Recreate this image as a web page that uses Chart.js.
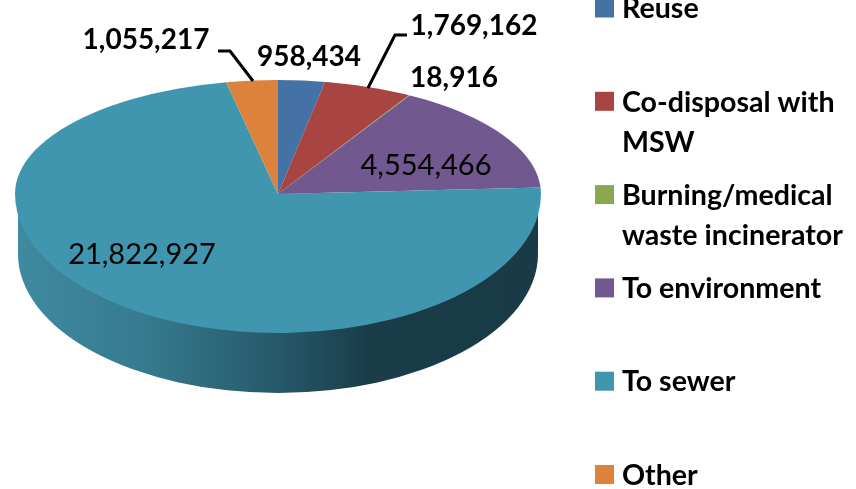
<!DOCTYPE html>
<html><head><meta charset="utf-8">
<style>html,body{margin:0;padding:0;background:#fff}#w{width:856px;height:489px}canvas{filter:blur(0.4px)}</style>
<script src="https://cdn.jsdelivr.net/npm/chart.js@4"></script></head>
<body><div id="w"><canvas id="c" width="856" height="489"></canvas></div>
<script>
const categories = ['Reuse','Co-disposal with MSW','Burning/medical waste incinerator','To environment','To sewer','Other'];
const values = [958434,1769162,18916,4554466,21822927,1055217];
const colors = ['#4472a4','#a84442','#8aa84e','#71588f','#4096ae','#dc823c'];
const legendLines = [['Reuse'],['Co-disposal with','MSW'],['Burning/medical','waste incinerator'],['To environment'],['To sewer'],['Other']];
const valueText = ['958,434','1,769,162','18,916','4,554,466','21,822,927','1,055,217'];

// layout of the perspective pie
const face = {cx:278, cy:194, rx:263, up:114, down:139, depth:60, narrow:0.9, over:1.25};
const labelPos = [[309,57,700,28],[474,26,700,28],[454,78,700,28],[426,166,400,29],[142,255,400,29],[146,40,700,28]];
const leaders = [[[218,51],[230,51],[253,81]],[[407,35],[395,35],[368,88]]];
const legendLayout = {x:595, y:8, step:93.3, box:19, textX:622, lineH:40};
const FONT = 'Lato, "Open Sans", sans-serif';

const pie3d = {
  id:'pie3d',
  beforeDatasetDraw(chart,args){
    const ctx = chart.ctx, arcs = chart.getDatasetMeta(args.index).data;
    const {cx,cy,rx,up,down,depth,narrow,over} = face;
    // side wall
    const g = ctx.createLinearGradient(cx-rx,0,cx+rx,0);
    g.addColorStop(0,'#3f8aa0'); g.addColorStop(0.25,'#367a8e'); g.addColorStop(0.5,'#26596a');
    g.addColorStop(0.67,'#1a3d4a'); g.addColorStop(1,'#193a46');
    ctx.save();
    ctx.beginPath();
    ctx.ellipse(cx,cy+depth,rx-3,down,0,0,Math.PI);
    ctx.lineTo(cx-rx+3,cy); ctx.lineTo(cx+rx-3,cy); ctx.closePath();
    ctx.fillStyle = g; ctx.fill();
    ctx.restore();
    const r = arcs[0].outerRadius, ax = arcs[0].x, ay = arcs[0].y;
    // far half: wedges foreshortened, outline clipped to the ellipse
    ctx.save();
    ctx.beginPath(); ctx.ellipse(cx,cy,rx,up,0,Math.PI,2*Math.PI); ctx.closePath(); ctx.clip();
    ctx.translate(cx,cy); ctx.scale(rx*narrow*over/r,up*over/r); ctx.translate(-ax,-ay);
    arcs.forEach(a=>a.draw(ctx));
    ctx.restore();
    // near half
    ctx.save();
    ctx.beginPath(); ctx.rect(0,cy-0.5,chart.width,chart.height-cy); ctx.clip();
    ctx.translate(cx,cy); ctx.scale(rx/r,down/r); ctx.translate(-ax,-ay);
    arcs.forEach(a=>a.draw(ctx));
    ctx.restore();
    return false;
  },
  afterDraw(chart){
    const ctx = chart.ctx;
    ctx.save();
    ctx.strokeStyle='#000'; ctx.lineWidth=3;
    leaders.forEach(l=>{ctx.beginPath();l.forEach((p,i)=>i?ctx.lineTo(p[0],p[1]):ctx.moveTo(p[0],p[1]));ctx.stroke();});
    ctx.fillStyle='#000'; ctx.textAlign='center'; ctx.textBaseline='middle';
    valueText.forEach((t,i)=>{const [x,y,w,s]=labelPos[i];ctx.font=`${w} ${s}px ${FONT}`;ctx.fillText(t,x,y);});
    ctx.textAlign='left';
    ctx.font=`700 28.6px ${FONT}`;
    const L=legendLayout;
    legendLines.forEach((lines,i)=>{
      const y=L.y+L.step*i;
      ctx.fillStyle=colors[i]; ctx.fillRect(L.x,y-L.box/2,L.box,L.box);
      ctx.fillStyle='#000';
      lines.forEach((t,j)=>ctx.fillText(t,L.textX,y+1+j*L.lineH));
    });
    ctx.restore();
  }
};
new Chart(document.getElementById('c'),{
  type:'pie',
  data:{labels:categories,datasets:[{data:values,backgroundColor:colors,borderWidth:0}]},
  options:{responsive:false,animation:false,plugins:{legend:{display:false},tooltip:{enabled:false}}},
  plugins:[pie3d]
});
</script></body></html>
